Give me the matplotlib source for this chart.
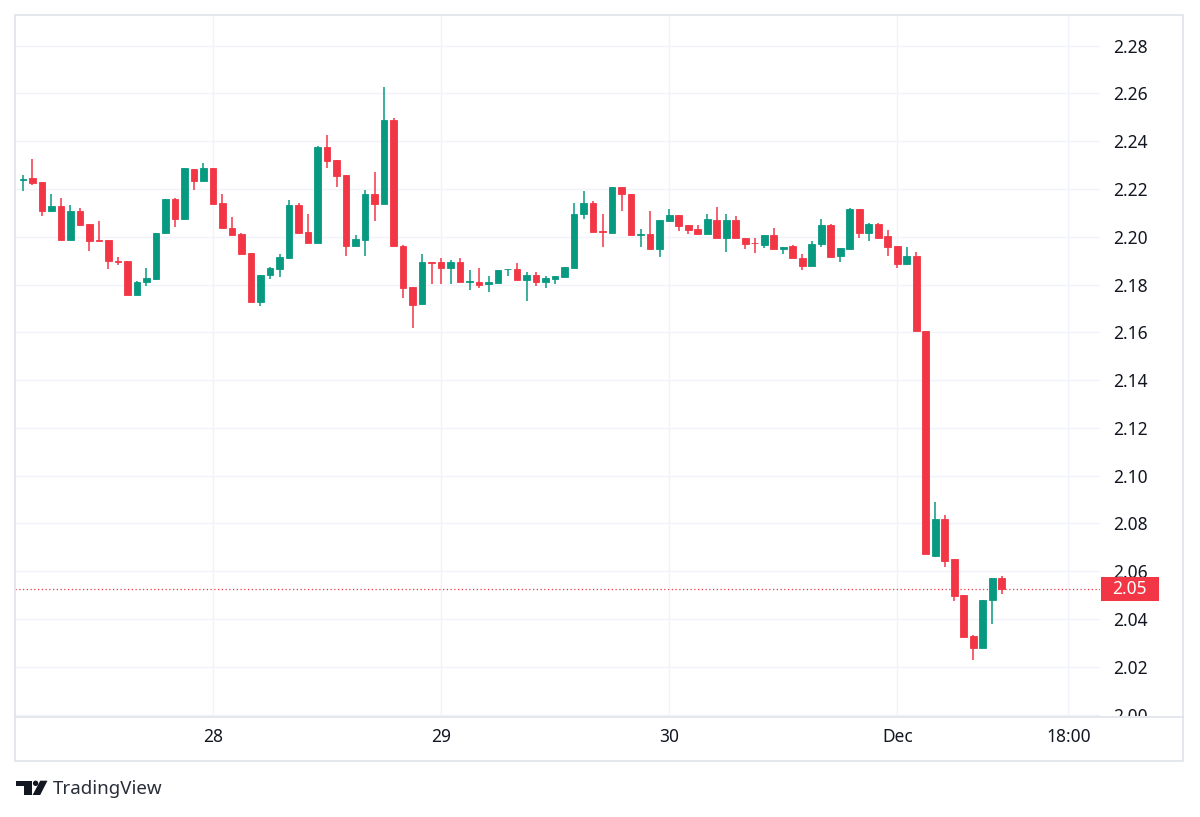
import matplotlib
matplotlib.use('Agg')
import matplotlib.pyplot as plt
import matplotlib.dates as mdates
import pandas as pd
from matplotlib.patches import Rectangle, Circle, Polygon
from matplotlib.lines import Line2D
from matplotlib.transforms import blended_transform_factory, Bbox, TransformedBbox

# ---------------- data (hourly candles) ----------------
start_time = '2025-11-27 04:00'
opens = [2.2236, 2.2245, 2.2230, 2.2110, 2.2131, 2.1986, 2.2106, 2.2052, 2.1986, 2.1986,
         2.1897, 2.1900, 2.1756, 2.1810, 2.1823, 2.2014, 2.2159, 2.2073, 2.2283, 2.2232,
         2.2289, 2.2143, 2.2036, 2.2011, 2.1931, 2.1728, 2.1838, 2.1865, 2.1910, 2.2132,
         2.2021, 2.1972, 2.2375, 2.2322, 2.2260, 2.1961, 2.1986, 2.2181, 2.2139, 2.2490,
         2.1963, 2.1789, 2.1719, 2.1896, 2.1896, 2.1869, 2.1896, 2.1812, 2.1812, 2.1802,
         2.1805, 2.1865, 2.1864, 2.1820, 2.1839, 2.1812, 2.1823, 2.1833, 2.1871, 2.2096,
         2.2141, 2.2024, 2.2017, 2.2207, 2.2179, 2.2006, 2.2012, 2.1948, 2.2068, 2.2092,
         2.2051, 2.2033, 2.2010, 2.2072, 2.1993, 2.2072, 2.1996, 2.1975, 2.1964, 2.2007,
         2.1948, 2.1961, 2.1913, 2.1877, 2.1968, 2.2048, 2.1919, 2.1951, 2.2115, 2.2014,
         2.2052, 2.2003, 2.1961, 2.1888, 2.1919, 2.1607, 2.0663, 2.0817, 2.0653, 2.0500,
         2.0330, 2.0279, 2.0479, 2.0570]
highs = [2.2258, 2.2324, 2.2230, 2.2179, 2.2163, 2.2135, 2.2120, 2.2052, 2.2065, 2.1986,
         2.1917, 2.1900, 2.1816, 2.1869, 2.2014, 2.2159, 2.2163, 2.2290, 2.2283, 2.2310,
         2.2290, 2.2181, 2.2081, 2.2014, 2.1931, 2.1840, 2.1872, 2.1928, 2.2153, 2.2142,
         2.2094, 2.2379, 2.2426, 2.2322, 2.2260, 2.2007, 2.2194, 2.2271, 2.2628, 2.2496,
         2.1965, 2.1789, 2.1927, 2.1896, 2.1913, 2.1903, 2.1913, 2.1860, 2.1871, 2.1834,
         2.1860, 2.1867, 2.1892, 2.1853, 2.1853, 2.1834, 2.1834, 2.1875, 2.2141, 2.2190,
         2.2148, 2.2097, 2.2210, 2.2207, 2.2179, 2.2033, 2.2109, 2.2072, 2.2117, 2.2092,
         2.2051, 2.2051, 2.2095, 2.2123, 2.2095, 2.2086, 2.1996, 2.1996, 2.2007, 2.2037,
         2.1957, 2.1964, 2.1929, 2.1982, 2.2073, 2.2052, 2.1954, 2.2119, 2.2115, 2.2056,
         2.2056, 2.2028, 2.1961, 2.1957, 2.1936, 2.1607, 2.0888, 2.0835, 2.0653, 2.0500,
         2.0335, 2.0479, 2.0570, 2.0580]
lows = [2.2190, 2.2218, 2.2086, 2.2105, 2.1986, 2.1986, 2.2048, 2.1939, 2.1982, 2.1865,
        2.1880, 2.1756, 2.1756, 2.1793, 2.1818, 2.2012, 2.2039, 2.2069, 2.2196, 2.2232,
        2.2139, 2.2035, 2.2007, 2.1928, 2.1728, 2.1711, 2.1822, 2.1833, 2.1906, 2.2014,
        2.1972, 2.1972, 2.2289, 2.2208, 2.1921, 2.1961, 2.1921, 2.2065, 2.2139, 2.1961,
        2.1743, 2.1618, 2.1719, 2.1802, 2.1802, 2.1802, 2.1812, 2.1779, 2.1784, 2.1770,
        2.1805, 2.1837, 2.1820, 2.1733, 2.1792, 2.1784, 2.1802, 2.1833, 2.1869, 2.2075,
        2.2021, 2.1957, 2.2017, 2.2110, 2.2006, 2.1957, 2.1948, 2.1916, 2.2068, 2.2026,
        2.2010, 2.2010, 2.2010, 2.1993, 2.1937, 2.1993, 2.1948, 2.1934, 2.1954, 2.1948,
        2.1927, 2.1913, 2.1862, 2.1877, 2.1958, 2.1916, 2.1894, 2.1951, 2.1993, 2.1982,
        2.1996, 2.1919, 2.1870, 2.1881, 2.1604, 2.0672, 2.0658, 2.0619, 2.0475, 2.0325,
        2.0228, 2.0279, 2.0381, 2.0504]
closes = [2.2240, 2.2226, 2.2110, 2.2131, 2.1986, 2.2106, 2.2048, 2.1981, 2.1982, 2.1897,
          2.1894, 2.1756, 2.1810, 2.1828, 2.2014, 2.2159, 2.2073, 2.2286, 2.2232, 2.2290,
          2.2139, 2.2035, 2.2007, 2.1928, 2.1728, 2.1840, 2.1868, 2.1914, 2.2132, 2.2017,
          2.1972, 2.2375, 2.2319, 2.2254, 2.1961, 2.1990, 2.2181, 2.2139, 2.2490, 2.1961,
          2.1785, 2.1715, 2.1896, 2.1892, 2.1869, 2.1896, 2.1812, 2.1816, 2.1800, 2.1809,
          2.1860, 2.1867, 2.1820, 2.1839, 2.1809, 2.1826, 2.1834, 2.1875, 2.2097, 2.2141,
          2.2021, 2.2021, 2.2210, 2.2179, 2.2006, 2.2012, 2.1948, 2.2072, 2.2092, 2.2047,
          2.2030, 2.2010, 2.2074, 2.1993, 2.2072, 2.1993, 2.1968, 2.1972, 2.2007, 2.1948,
          2.1957, 2.1913, 2.1879, 2.1971, 2.2048, 2.1916, 2.1954, 2.2115, 2.2014, 2.2052,
          2.1996, 2.1957, 2.1888, 2.1919, 2.1604, 2.0672, 2.0817, 2.0644, 2.0496, 2.0325,
          2.0279, 2.0479, 2.0570, 2.0524]

price_ticks = [2.00, 2.02, 2.04, 2.06, 2.08, 2.10, 2.12, 2.14, 2.16, 2.18, 2.20, 2.22, 2.24, 2.26, 2.28]
time_ticks = ['2025-11-28 00:00', '2025-11-29 00:00', '2025-11-30 00:00', '2025-12-01 00:00', '2025-12-01 18:00']
time_labels = ['28', '29', '30', 'Dec', '18:00']
last_label = '2.05'

# ---------------- style ----------------
UP = '#089981'
DOWN = '#F23645'
GRID = '#f0f3fa'
BORDER = '#e0e3eb'
TXT = '#131722'
FONT = 'Noto Sans'
plt.rcParams['font.family'] = [FONT, 'DejaVu Sans']

W, H = 1200, 817
fig = plt.figure(figsize=(W / 100, H / 100), dpi=100)
fig.patch.set_facecolor('white')

# plot area in pixels: x 15..1100, y 15..716
ax = fig.add_axes([15 / W, 1 - 716 / H, 1085 / W, 701 / H])
ax.set_facecolor('white')

times = pd.date_range(start_time, periods=len(opens), freq='h')
xs = mdates.date2num(times)
hour = 1 / 24

colors = [UP if c >= o else DOWN for o, c in zip(opens, closes)]
bottoms = [min(o, c) for o, c in zip(opens, closes)]
heights = [abs(c - o) for o, c in zip(opens, closes)]

ax.vlines(xs, lows, highs, colors=colors, linewidth=1.1, zorder=3)
ax.bar(xs, heights, bottom=bottoms, width=0.7 * hour, color=colors,
       edgecolor=colors, linewidth=0.6, zorder=4)

# axes limits
x28 = mdates.date2num(pd.Timestamp(time_ticks[0]))
ax.set_xlim(x28 - 20.83 * hour, x28 + 93.33 * hour)
ymin, ymax = 1.99938, 2.29286
ax.set_ylim(ymin, ymax)

# grid
ax.set_yticks(price_ticks)
ax.set_yticklabels([f'{p:.2f}' for p in price_ticks])
ax.set_xticks(mdates.date2num(pd.to_datetime(time_ticks)))
ax.set_xticklabels(time_labels)
ax.grid(True, color=GRID, linewidth=1.0, zorder=0)
ax.set_axisbelow(True)
for s in ax.spines.values():
    s.set_visible(False)

ax.yaxis.tick_right()
ax.tick_params(axis='y', length=0, pad=9.4, labelsize=12.5, labelcolor=TXT)
ax.tick_params(axis='x', length=0, pad=8.4, labelsize=12.5, labelcolor=TXT)
for lab in ax.get_xticklabels():
    if lab.get_text() == 'Dec':
        lab.set_fontweight('bold')

# clip price labels to the plot's vertical extent (2.00 partly hidden)
clip = TransformedBbox(Bbox([[0, 1 - 716 / H], [1, 1]]), fig.transFigure)
for t in ax.yaxis.get_major_ticks():
    for lab in (t.label1, t.label2):
        lab.set_clip_on(True)
        lab.set_clip_box(clip)

# last price line and label
last = closes[-1]
ax.axhline(last, color=DOWN, linewidth=0.9, linestyle=(0, (1, 2)), zorder=2)
px_per_unit = 701 / (ymax - ymin)
box_h = 24 / px_per_unit
box_w = 58 / 1085
trans = blended_transform_factory(ax.transAxes, ax.transData)
ax.add_patch(Rectangle((1.0005, last - box_h / 2), box_w, box_h, transform=trans,
                       facecolor=DOWN, edgecolor='none', clip_on=False, zorder=10))
ax.text(1.0005 + box_w / 2, last, last_label, transform=trans, ha='center', va='center',
        color='white', fontsize=12.5, zorder=11, clip_on=False)

# ---------------- overlay: frame + logo ----------------
ov = fig.add_axes([0, 0, 1, 1])
ov.set_xlim(0, W)
ov.set_ylim(H, 0)
ov.axis('off')
ov.add_patch(Rectangle((15, 15), 1168, 746, fill=False, edgecolor=BORDER, linewidth=1.2))
ov.add_line(Line2D([15, 1183], [716.5, 716.5], color=BORDER, linewidth=1.2))

LOGO = '#131722'
ov.add_patch(Polygon([(16, 780.7), (31.7, 780.7), (31.7, 795), (24, 795), (24, 785.9), (16, 785.9)],
                     closed=True, facecolor=LOGO, edgecolor='none'))
ov.add_patch(Circle((35.6, 783.3), 2.7, facecolor=LOGO, edgecolor='none'))
ov.add_patch(Polygon([(40.2, 780.7), (47.5, 780.7), (40.2, 795), (32.6, 795)],
                     closed=True, facecolor=LOGO, edgecolor='none'))
ov.text(53, 789, 'TradingView', ha='left', va='center', fontsize=13.5, color='#2a2e39')

fig.savefig('out.png', dpi=100, facecolor='white')
